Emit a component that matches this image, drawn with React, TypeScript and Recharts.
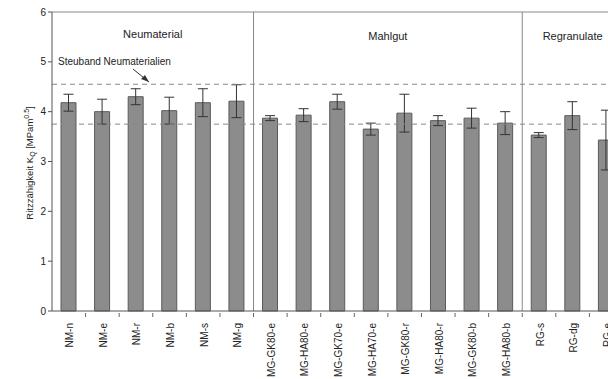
import React from 'react';
import { BarChart, Bar, XAxis, YAxis, ErrorBar, ReferenceLine, ReferenceArea } from 'recharts';

const probes = [
  'NM-n', 'NM-e', 'NM-r', 'NM-b', 'NM-s', 'NM-g',
  'MG-GK80-e', 'MG-HA80-e', 'MG-GK70-e', 'MG-HA70-e', 'MG-GK80-r', 'MG-HA80-r', 'MG-GK80-b', 'MG-HA80-b',
  'RG-s', 'RG-dg', 'RG-e',
];
const kq = [4.18, 4.0, 4.3, 4.02, 4.18, 4.21, 3.87, 3.93, 4.2, 3.65, 3.97, 3.82, 3.87, 3.77, 3.53, 3.92, 3.43];
const kqErr = [0.17, 0.25, 0.16, 0.27, 0.28, 0.33, 0.05, 0.13, 0.15, 0.12, 0.38, 0.1, 0.2, 0.23, 0.05, 0.28, 0.6];
const yTicks = [0, 1, 2, 3, 4, 5, 6];

const bandLow = 3.75;
const bandHigh = 4.55;

const data = probes.map((name, i) => ({ name, kq: kq[i], err: kqErr[i] }));

const FONT = '"Liberation Sans", Arial, sans-serif';
const CHART_W = 640;
const CHART_H = 379;
const PLOT_LEFT = 52;
const PLOT_RIGHT_MARGIN = 17;
const BAND = (CHART_W - PLOT_LEFT - PLOT_RIGHT_MARGIN) / probes.length;

const ProbeTick = ({ x, y, payload }: any) => (
  <g>
    <line x1={x + BAND / 2} x2={x + BAND / 2} y1={y - 6} y2={y - 2} stroke="#666" strokeWidth={1} />
    <text
      transform={`translate(${x + 1}, ${y + 4}) rotate(-90)`}
      textAnchor="end"
      dy="0.35em"
      fontSize={10}
      fontFamily={FONT}
      fill="#222"
    >
      {payload.value}
    </text>
  </g>
);

export default function App() {
  return (
    <div style={{ position: 'absolute', left: 0, top: 0, width: 608, height: 379, overflow: 'hidden', background: '#fff', fontFamily: FONT }}>
      <BarChart
        width={CHART_W}
        height={CHART_H}
        data={data}
        margin={{ top: 12, right: PLOT_RIGHT_MARGIN, left: 22, bottom: 0 }}
        barCategoryGap={19}
      >
        <XAxis
          dataKey="name"
          interval={0}
          height={68}
          tickLine={false}
          axisLine={{ stroke: '#555' }}
          tick={<ProbeTick />}
        />
        <YAxis
          domain={[0, 6]}
          ticks={yTicks}
          width={30}
          tickSize={4}
          axisLine={{ stroke: '#555' }}
          tickLine={{ stroke: '#555' }}
          tick={{ fontSize: 10, fill: '#222', fontFamily: FONT }}
        />
        <ReferenceLine y={6} stroke="#888" />
        <ReferenceArea x1="NM-n" x2="NM-g" fill="none" stroke="none" ifOverflow="visible"
          label={{ value: 'Neumaterial', position: 'insideTop', offset: 18, fontSize: 11, fill: '#222', fontFamily: FONT }} />
        <ReferenceArea x1="MG-GK80-e" x2="MG-HA80-b" fill="none" stroke="none" ifOverflow="visible"
          label={{ value: 'Mahlgut', position: 'insideTop', offset: 20, fontSize: 11, fill: '#222', fontFamily: FONT }} />
        <ReferenceArea x1="RG-s" x2="RG-e" fill="none" stroke="none" ifOverflow="visible"
          label={{ value: 'Regranulate', position: 'insideTop', offset: 20, fontSize: 11, fill: '#222', fontFamily: FONT }} />
        <Bar dataKey="kq" barSize={15} fill="#8c8c8c" stroke="#5a5a5a" strokeWidth={1} isAnimationActive={false}>
          <ErrorBar dataKey="err" width={5} stroke="#333" strokeWidth={1} />
        </Bar>
        <ReferenceLine y={bandHigh} stroke="#888" strokeDasharray="5 4" />
        <ReferenceLine y={bandLow} stroke="#888" strokeDasharray="5 4" />
        <ReferenceLine x="MG-GK80-e" position="start" stroke="#888" />
        <ReferenceLine x="RG-s" position="start" stroke="#888" />
      </BarChart>

      {/* annotation + y-axis title */}
      <svg width={608} height={379} style={{ position: 'absolute', left: 0, top: 0, pointerEvents: 'none' }}>
        <text x={58} y={65} fontSize={10} fontFamily={FONT} fill="#222">Steuband Neumaterialien</text>
        <line x1={133} y1={69} x2={149} y2={82} stroke="#333" strokeWidth={1} />
        <path d="M149,82 L141,79 L145,75 Z" fill="#333" />
        <text
          transform="translate(33, 163) rotate(-90)"
          textAnchor="middle"
          fontSize={9.5}
          fontFamily={FONT}
          fill="#222"
        >
          Ritzzähigkeit K<tspan fontSize={7} dy={2}>Q</tspan>
          <tspan dy={-2}> [MPam</tspan>
          <tspan fontSize={7} dy={-4}>0.5</tspan>
          <tspan dy={4}>]</tspan>
        </text>
      </svg>
    </div>
  );
}
